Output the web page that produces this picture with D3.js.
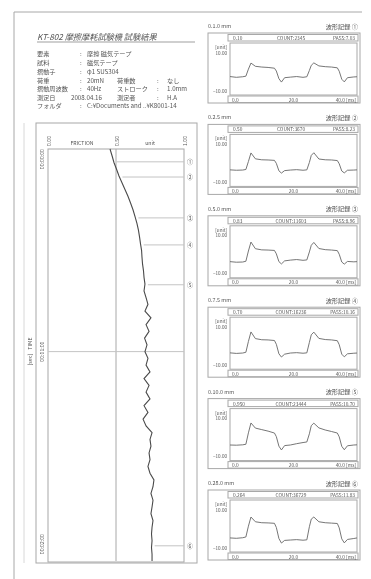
<!DOCTYPE html>
<html><head><meta charset="utf-8">
<script src="https://cdn.jsdelivr.net/npm/d3@7"></script>
<style>
html,body{margin:0;padding:0;background:#fff;}
svg{display:block;filter:blur(0.35px);}
text{font-family:"Noto Sans CJK JP","Noto Sans",sans-serif;fill:#555;}
</style></head><body><svg id="c" width="371" height="579"></svg>
<script>
// ---------- data ----------
const titleText = "KT-802  摩擦摩耗試験機   試験結果";
const infoLabels = ["要素","試料","摺動子","荷重","摺動周波数","測定日","フォルダ"];
const infoValues = ["摩擦  磁気テープ","磁気テープ","φ1  SUS304","20mN","40Hz","2008.04.16","C:¥Documents and ..¥K8001-14"];
const infoLabels2 = ["","","","荷重数","ストローク","測定者",""];
const infoValues2 = ["","","","なし","1.0mm","H.A",""];

const frictionTimes = [0,2,4,6,8,10,12,14,16,18,20,22,24,26,28,30,32,34,36,38,40,42,44,46,48,50,52,54,56,58,60,62,64,66,68,70,72,74,76,78,80,82,84,86,88,90,92,94,96,98,100,102,104,106,108,110,112,114,116,118,120,122];
const frictionValues = [0.456,0.471,0.485,0.504,0.522,0.544,0.566,0.588,0.607,0.625,0.640,0.654,0.665,0.673,0.680,0.688,0.691,0.695,0.702,0.706,0.713,0.706,0.721,0.735,0.713,0.757,0.721,0.743,0.710,0.728,0.713,0.735,0.721,0.750,0.706,0.743,0.721,0.750,0.706,0.735,0.699,0.721,0.765,0.750,0.757,0.743,0.750,0.735,0.750,0.779,0.772,0.757,0.772,0.765,0.757,0.772,0.765,0.761,0.765,0.761,0.765,0.765];
const frictionTicks = [0, 0.5, 1.0];
const frictionTickLabels = ["0.00","0.50","1.00"];
const timeTicks = [0, 60, 120];
const timeTickLabels = ["00:00:00","00:01:00","00:02:00"];
const markerTimes = [3.8, 8.3, 20.4, 28.4, 40.2, 117.5];
const markerLabels = ["①","②","③","④","⑤","⑥"];

const panelTitles = ["0.1.0 mm","0.2.5 mm","0.5.0 mm","0.7.5 mm","0.10.0 mm","0.28.0 mm"];
const panelNames = ["波形記録 ①","波形記録 ②","波形記録 ③","波形記録 ④","波形記録 ⑤","波形記録 ⑥"];
const panelHead = ["0.10","0.50","0.83","0.70","0.950","0.264"];
const panelCounts = ["COUNT:2345","COUNT:3670","COUNT:11603","COUNT:16236","COUNT:23444","COUNT:36729"];
const panelPass = ["PASS:7.03","PASS:8.23","PASS:8.96","PASS:10.16","PASS:10.70","PASS:11.83"];
const waveTicks = [0, 20, 40];
const waveTickLabels = ["0.0","20.0","40.0 [ms]"];
const waveYTicks = [10, -10];
const waveTimes = [0,2,4,5,5.8,6.6,8,10,12,14,14.6,15.4,16.2,17.2,19,21,23,24.2,25,25.6,26.4,28,30,32,33.8,34.4,35.2,36,37,39,40];
const wave1 = [-2.4,-2.8,-2.5,-2.2,1.5,4.7,3.0,2.6,2.4,2.0,0.5,-3.5,-5.3,-3.0,-2.7,-2.4,-2.8,-2.5,0.8,3.5,4.8,3.2,2.8,2.6,2.2,0.4,-3.8,-5.2,-3.0,-2.6,-2.5];
const wave2 = [-3.4,-3.6,-3.5,-3.2,1.0,5.5,2.4,1.9,1.8,1.6,0.0,-3.9,-5.1,-3.8,-3.5,-3.3,-3.6,-3.4,0.5,4.2,5.6,2.3,1.9,1.8,1.5,-0.2,-4.0,-5.0,-3.6,-3.5,-3.4];
const wave3 = [-3.6,-3.9,-3.8,-3.4,2.0,6.7,3.2,2.6,2.5,2.3,0.5,-3.6,-4.8,-3.2,-2.8,-2.5,-2.9,-2.7,1.5,5.0,6.5,3.3,2.7,2.5,2.2,0.3,-3.8,-4.9,-3.5,-3.7,-3.6];
const wave4 = [-3.5,-3.8,-3.6,-3.2,2.5,7.5,4.0,3.4,3.3,3.0,1.0,-4.0,-5.7,-4.2,-3.6,-3.4,-3.7,-3.5,2.0,6.0,7.4,4.1,3.5,3.3,2.9,0.8,-4.2,-5.6,-4.0,-3.7,-3.6];
const wave5 = [-3.9,-4.0,-3.8,-3.5,2.5,7.7,5.0,4.2,3.4,2.4,0.5,-4.5,-6.5,-4.2,-3.9,-3.2,-2.6,-2.3,2.0,6.3,7.6,5.1,4.0,3.2,2.4,0.4,-4.6,-6.4,-4.3,-3.9,-3.8];
const wave6 = [-4.7,-4.9,-4.6,-4.2,1.5,6.3,3.8,3.3,3.2,3.0,0.8,-5.0,-7.4,-6.0,-5.8,-5.6,-5.9,-5.7,1.2,5.2,6.3,3.8,3.3,3.1,2.9,0.6,-5.2,-7.3,-5.5,-5.0,-4.7];
const waves = [wave1, wave2, wave3, wave4, wave5, wave6];

// ---------- drawing ----------
const svg = d3.select("#c");
const lineC = "#a8a8a8";

// page frame
svg.append("line").attr("x1",14).attr("x2",14).attr("y1",12).attr("y2",579).attr("stroke",lineC);
svg.append("line").attr("x1",14).attr("x2",362).attr("y1",12).attr("y2",12).attr("stroke",lineC);

// header texts
svg.append("text").attr("x",37).attr("y",40).attr("font-size",8.2).attr("font-style","italic").text(titleText);
svg.append("line").attr("x1",37).attr("x2",195).attr("y1",42).attr("y2",42).attr("stroke","#777").attr("stroke-width",0.7);
const rowY = [56,65,74,83,91,100,108];
infoLabels.forEach((l,i)=>{
  const y = rowY[i];
  const noColon = (i === 5);
  svg.append("text").attr("x",37).attr("y",y).attr("font-size",6.2).text(l);
  if (!noColon) svg.append("text").attr("x",80).attr("y",y).attr("font-size",6.2).text(":");
  svg.append("text").attr("x",noColon ? 71 : 87).attr("y",y).attr("font-size",6.2).text(infoValues[i]);
  if (infoLabels2[i]) {
    svg.append("text").attr("x",117).attr("y",y).attr("font-size",6.2).text(infoLabels2[i]);
    svg.append("text").attr("x",157).attr("y",y).attr("font-size",6.2).text(":");
    svg.append("text").attr("x",167).attr("y",y).attr("font-size",6.2).text(infoValues2[i]);
  }
});

// main friction chart
const xF = d3.scaleLinear().domain([0,1]).range([48,184]);
const yT = d3.scaleLinear().domain([0,122]).range([149,561]);
svg.append("rect").attr("x",36).attr("y",123).attr("width",161).attr("height",440).attr("fill","none").attr("stroke",lineC);
svg.append("rect").attr("x",xF(0)).attr("y",yT(0)).attr("width",xF(1)-xF(0)).attr("height",yT(122)-yT(0)+1).attr("fill","none").attr("stroke",lineC);
svg.append("line").attr("x1",xF(0.5)).attr("x2",xF(0.5)).attr("y1",yT(0)).attr("y2",yT(122)).attr("stroke",lineC);
svg.append("line").attr("x1",xF(0)).attr("x2",xF(1)).attr("y1",yT(60)).attr("y2",yT(60)).attr("stroke","#c4c4c4");
svg.append("line").attr("x1",24).attr("x2",24).attr("y1",123).attr("y2",563).attr("stroke","#d8d8d8");

// friction header labels
frictionTicks.forEach((v,i)=>{
  svg.append("text").attr("transform",`translate(${xF(v)+3},146) rotate(-90)`).attr("font-size",5.2).text(frictionTickLabels[i]);
});
svg.append("text").attr("x",82).attr("y",145).attr("font-size",5.2).attr("text-anchor","middle").text("FRICTION");
svg.append("text").attr("x",150).attr("y",145).attr("font-size",5.2).attr("text-anchor","middle").text("unit");

// time labels
timeTicks.forEach((t,i)=>{
  const anchor = i===0 ? "end" : (i===timeTicks.length-1 ? "start" : "middle");
  svg.append("text").attr("transform",`translate(44,${yT(t)}) rotate(-90)`).attr("font-size",5.2).attr("text-anchor",anchor).text(timeTickLabels[i]);
});
svg.append("text").attr("transform",`translate(32,${yT(60)-8}) rotate(-90)`).attr("font-size",5.4).attr("text-anchor","middle").text("TIME");
svg.append("text").attr("transform",`translate(32,${yT(60)+8}) rotate(-90)`).attr("font-size",5.4).attr("text-anchor","middle").text("[sec]");

// friction curve
const fData = frictionTimes.map((t,i)=>[t, frictionValues[i]]);
const fLine = d3.line().x(d=>xF(d[1])).y(d=>yT(d[0])).curve(d3.curveLinear);
svg.append("path").datum(fData).attr("d",fLine).attr("fill","none").attr("stroke","#4a4a4a").attr("stroke-width",1.1);

// markers
const fInterp = t => { const i = d3.bisectLeft(frictionTimes, t); const i0 = Math.max(0,i-1), i1=Math.min(frictionTimes.length-1,i);
  const t0=frictionTimes[i0], t1=frictionTimes[i1]; const a = t1===t0?0:(t-t0)/(t1-t0); return frictionValues[i0]+(frictionValues[i1]-frictionValues[i0])*a; };
markerTimes.forEach((t,i)=>{
  svg.append("line").attr("x1",xF(fInterp(t))+3).attr("x2",xF(1)).attr("y1",yT(t)).attr("y2",yT(t)).attr("stroke","#c4c4c4");
  svg.append("text").attr("x",190).attr("y",yT(t)+2).attr("font-size",6).attr("text-anchor","middle").text(markerLabels[i]);
});

// waveform panels
const xW = d3.scaleLinear().domain([0,40]).range([230,357]);
waves.forEach((w,i)=>{
  const Tc = 26 + i*91.4;
  const g = svg.append("g");
  g.append("text").attr("x",208).attr("y",Tc+2).attr("font-size",5.4).text(panelTitles[i]);
  g.append("text").attr("x",358).attr("y",Tc+2.5).attr("font-size",6.2).attr("text-anchor","end").text(panelNames[i]);
  g.append("rect").attr("x",208).attr("y",Tc+7).attr("width",152).attr("height",70).attr("fill","none").attr("stroke",lineC);
  g.append("rect").attr("x",228).attr("y",Tc+8.5).attr("width",130).attr("height",6.5).attr("fill","none").attr("stroke",lineC);
  g.append("text").attr("x",233).attr("y",Tc+14).attr("font-size",4.8).text(panelHead[i]);
  g.append("text").attr("x",291).attr("y",Tc+14).attr("font-size",4.8).attr("text-anchor","middle").text(panelCounts[i]);
  g.append("text").attr("x",355).attr("y",Tc+14).attr("font-size",4.8).attr("text-anchor","end").text(panelPass[i]);
  g.append("rect").attr("x",230).attr("y",Tc+17).attr("width",127).attr("height",52).attr("fill","none").attr("stroke",lineC);
  g.append("rect").attr("x",228).attr("y",Tc+70).attr("width",130).attr("height",6.5).attr("fill","none").attr("stroke",lineC);
  waveTicks.forEach((v,k)=>{
    const anchor = k===0 ? "start" : (k===waveTicks.length-1 ? "end":"middle");
    const xx = k===0 ? xW(v)+2 : (k===waveTicks.length-1 ? xW(v)-1 : xW(v));
    g.append("text").attr("x",xx).attr("y",Tc+75.5).attr("font-size",4.8).attr("text-anchor",anchor).text(waveTickLabels[k]);
  });
  const yW = d3.scaleLinear().domain([-10,10]).range([Tc+65,Tc+27]);
  g.append("text").attr("x",227).attr("y",Tc+23).attr("font-size",4.6).attr("text-anchor","end").text("[unit]");
  waveYTicks.forEach(v=>{
    g.append("text").attr("x",227).attr("y",yW(v)+1.5).attr("font-size",4.6).attr("text-anchor","end").text(d3.format(".2f")(v));
  });
  const wl = d3.line().x((d,k)=>xW(waveTimes[k])).y(d=>yW(d));
  g.append("path").datum(w).attr("d",wl).attr("fill","none").attr("stroke","#666").attr("stroke-width",0.9);
});
</script></body></html>
